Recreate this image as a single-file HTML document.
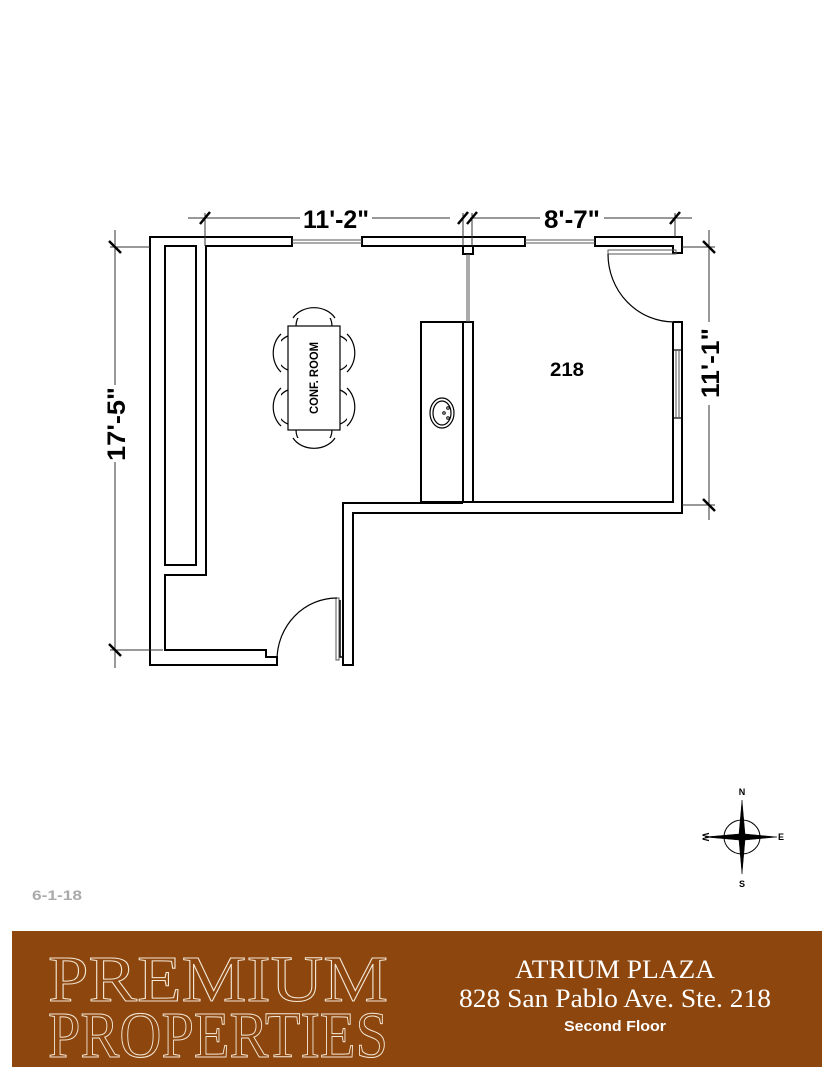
<!DOCTYPE html>
<html><head><meta charset="utf-8"><style>
html,body{margin:0;padding:0;background:#fff;}
svg{display:block;}
</style></head><body>
<svg width="835" height="1080" viewBox="0 0 835 1080" xmlns="http://www.w3.org/2000/svg" font-family="Liberation Sans, sans-serif">
<g fill="none" stroke="#000" stroke-width="2">
<path d="M150,237 H292 V246 H206 V575 H165 V650 H266 V657 H277 V665 H150 Z"/>
<rect x="165" y="246" width="31" height="319"/>
<rect x="362" y="237" width="163" height="9"/>
<path d="M595,237 H682 V253 H673 V246 H595 Z"/>
<rect x="463" y="246" width="10" height="8" />
<rect x="463" y="322" width="10" height="180"/>
<rect x="421" y="322" width="42" height="180"/>
<path d="M673,322 H682 V513 H353 V665 H343 V503 H463"/>
<path d="M473,502 H673 V322"/>
<rect x="673" y="350" width="9" height="68" stroke-width="1.2"/>
<path d="M340,600 V657 H343" stroke-width="1.5"/>
</g>
<g stroke="#555" stroke-width="1" fill="none">
<line x1="292" y1="240" x2="362" y2="240"/><line x1="292" y1="243" x2="362" y2="243"/>
<line x1="525" y1="240" x2="595" y2="240"/><line x1="525" y1="243" x2="595" y2="243"/>
<line x1="467" y1="254" x2="467" y2="322"/><line x1="469" y1="254" x2="469" y2="322"/>
<line x1="676" y1="350" x2="676" y2="418"/><line x1="679" y1="350" x2="679" y2="418"/>
<rect x="608" y="250" width="68" height="4"/>
<rect x="336" y="598" width="3" height="62"/>
</g>
<g stroke="#000" stroke-width="1.2" fill="none">
<path d="M608,254 A66,68 0 0 0 674,322"/>
<path d="M277,660 A60,62 0 0 1 337,598"/>
</g>
<g stroke="#000" stroke-width="1.2" fill="#fff">
<path d="M296,326 A18,18 0 0 1 332,326"/><path d="M293,318 A24,20 0 0 1 335,318"/>
<path d="M296,430 A18,18 0 0 0 332,430"/><path d="M293,438 A24,20 0 0 0 335,438"/>
<path d="M288,336 A17,18 0 0 0 288,370"/><path d="M281,334 A20,24 0 0 0 281,372"/>
<path d="M288,390 A17,18 0 0 0 288,424"/><path d="M281,388 A20,24 0 0 0 281,426"/>
<path d="M340,336 A17,18 0 0 1 340,370"/><path d="M347,334 A20,24 0 0 1 347,372"/>
<path d="M340,390 A17,18 0 0 1 340,424"/><path d="M347,388 A20,24 0 0 1 347,426"/>
<rect x="288" y="326" width="52" height="104"/>
<ellipse cx="442" cy="413" rx="12" ry="15"/>
<ellipse cx="442" cy="413" rx="9" ry="12"/>
</g>
<circle cx="444" cy="413" r="1.3" fill="none" stroke="#000"/>
<circle cx="448" cy="408" r="1.3" fill="none" stroke="#000"/>
<circle cx="448" cy="418" r="1.3" fill="none" stroke="#000"/>
<text x="315" y="378" font-size="12" font-weight="bold" text-anchor="middle" transform="rotate(-90 315 378)" dominant-baseline="middle" textLength="72" lengthAdjust="spacingAndGlyphs">CONF. ROOM</text>
<text x="567" y="376" font-size="19" font-weight="bold" text-anchor="middle" textLength="34" lengthAdjust="spacingAndGlyphs">218</text>
<g stroke="#333" stroke-width="1">
<line x1="188" y1="218" x2="300" y2="218"/><line x1="372" y1="218" x2="450" y2="218"/>
<line x1="470" y1="218" x2="540" y2="218"/><line x1="604" y1="218" x2="692" y2="218"/>
<line x1="205" y1="213" x2="205" y2="246"/><line x1="463" y1="213" x2="463" y2="246"/><line x1="472" y1="213" x2="472" y2="246"/><line x1="675" y1="213" x2="675" y2="237"/>
<line x1="115" y1="230" x2="115" y2="385"/><line x1="115" y1="462" x2="115" y2="668"/>
<line x1="110" y1="247" x2="150" y2="247"/><line x1="110" y1="650" x2="163" y2="650"/>
<line x1="709" y1="230" x2="709" y2="322"/><line x1="709" y1="405" x2="709" y2="520"/>
<line x1="682" y1="247" x2="715" y2="247"/><line x1="682" y1="505" x2="715" y2="505"/>
</g>
<g stroke="#000" stroke-width="2.5">
<line x1="200" y1="224" x2="210" y2="212"/><line x1="458" y1="224" x2="468" y2="212"/><line x1="467" y1="224" x2="477" y2="212"/><line x1="670" y1="224" x2="680" y2="212"/>
<line x1="109" y1="241" x2="121" y2="253"/><line x1="109" y1="644" x2="121" y2="656"/>
<line x1="703" y1="241" x2="715" y2="253"/><line x1="703" y1="499" x2="715" y2="511"/>
</g>
<g font-weight="bold" font-size="25">
<text x="336" y="228" text-anchor="middle" textLength="66" lengthAdjust="spacingAndGlyphs">11'-2"</text>
<text x="572" y="228" text-anchor="middle" textLength="56" lengthAdjust="spacingAndGlyphs">8'-7"</text>
<text x="125" y="424" text-anchor="middle" transform="rotate(-90 125 424)" textLength="74" lengthAdjust="spacingAndGlyphs">17'-5"</text>
<text x="719" y="363" text-anchor="middle" transform="rotate(-90 719 363)" textLength="70" lengthAdjust="spacingAndGlyphs">11'-1"</text>
</g>
<g stroke="#000" fill="none">
<ellipse cx="742" cy="837" rx="18" ry="17" stroke-width="1"/>
<path d="M742,800 L745,834 L777,837 L745,840 L742,874 L739,840 L705,837 L739,834 Z" fill="#000" stroke-width="0.5"/>
</g>
<text x="742" y="795" font-size="9" font-weight="bold" text-anchor="middle">N</text>
<text x="742" y="887" font-size="9" font-weight="bold" text-anchor="middle">S</text>
<text x="778" y="840" font-size="9" font-weight="bold">E</text>
<text x="705" y="837" font-size="9" font-weight="bold" text-anchor="middle" transform="rotate(90 705 837)" dominant-baseline="middle">W</text>
<text x="32" y="900" font-size="14" font-weight="bold" fill="#aaa" textLength="50" lengthAdjust="spacingAndGlyphs">6-1-18</text>
<rect x="12" y="931" width="810" height="136" fill="#8c460e"/>
<g fill="none" stroke="#f4e8d6" stroke-width="1" font-family="Liberation Serif, serif">
<text x="48" y="1001" font-size="66" textLength="340" lengthAdjust="spacingAndGlyphs">PREMIUM</text>
<text x="48" y="1057" font-size="66" textLength="340" lengthAdjust="spacingAndGlyphs">PROPERTIES</text>
</g>
<g fill="#fff" text-anchor="middle" font-family="Liberation Serif, serif">
<text x="615" y="978" font-size="26" textLength="200" lengthAdjust="spacingAndGlyphs">ATRIUM PLAZA</text>
<text x="615" y="1007" font-size="26" textLength="312" lengthAdjust="spacingAndGlyphs">828 San Pablo Ave. Ste. 218</text>
</g>
<text x="615" y="1031" fill="#fff" text-anchor="middle" font-size="15" font-weight="bold" textLength="102" lengthAdjust="spacingAndGlyphs">Second Floor</text>
</svg>
</body></html>
